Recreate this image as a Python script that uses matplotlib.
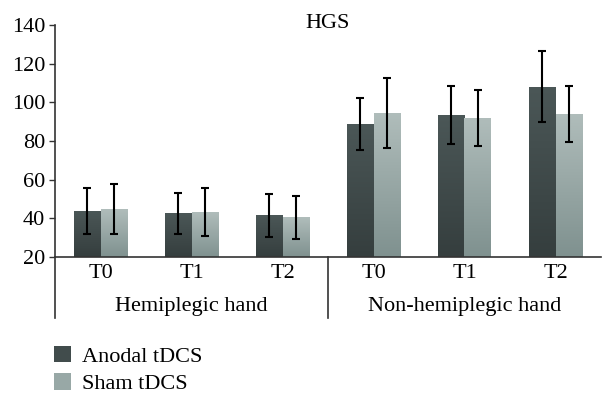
import numpy as np
import matplotlib
matplotlib.use("Agg")
import matplotlib.pyplot as plt
from matplotlib.colors import LinearSegmentedColormap

categories = ["T0", "T1", "T2", "T0", "T1", "T2"]
groups = ["Hemiplegic hand", "Non-hemiplegic hand"]
anodal = [43.8, 42.6, 41.6, 88.8, 93.3, 108.1]
anodal_err = [12.0, 10.5, 11.0, 13.4, 15.1, 18.3]
sham = [44.8, 43.1, 40.5, 94.7, 91.9, 94.0]
sham_err = [13.1, 12.4, 11.0, 18.1, 14.4, 14.7]
series = ["Anodal tDCS", "Sham tDCS"]

plt.rcParams["font.family"] = ["Liberation Serif", "DejaVu Serif"]
plt.rcParams["font.size"] = 16

fig = plt.figure(figsize=(6.15, 4.03), dpi=100)
ax = fig.add_axes([55 / 615, 1 - 257 / 403, 546 / 615, 232 / 403])

x = np.arange(len(categories))
w = 0.29
dark_cmap = LinearSegmentedColormap.from_list("d", ["#353e3e", "#4b5757"])
light_cmap = LinearSegmentedColormap.from_list("l", ["#7f918f", "#b0bdbb"])

bars_a = ax.bar(x - w / 2, anodal, w, color="#414c4c", label=series[0], zorder=2)
bars_s = ax.bar(x + w / 2, sham, w, color="#98a8a6", label=series[1], zorder=2)

# vertical gradient fill clipped to each bar
grad = np.linspace(0, 1, 256).reshape(-1, 1)
for bars, cmap in ((bars_a, dark_cmap), (bars_s, light_cmap)):
    for b in bars:
        bx, bw, bh = b.get_x(), b.get_width(), b.get_height()
        im = ax.imshow(grad, cmap=cmap, origin="lower", aspect="auto",
                       extent=[bx, bx + bw, 20, bh], zorder=2.5)
        im.set_clip_path(b)

ax.errorbar(x - w / 2, anodal, yerr=anodal_err, fmt="none", ecolor="black",
            elinewidth=1.5, capsize=3, capthick=1.5, zorder=4)
ax.errorbar(x + w / 2, sham, yerr=sham_err, fmt="none", ecolor="black",
            elinewidth=1.5, capsize=3, capthick=1.5, zorder=4)

ax.set_xlim(-0.5, 5.5)
ax.set_ylim(20, 140)
ax.set_yticks(range(20, 141, 20))
ax.set_xticks(x)
ax.set_xticklabels(categories)
ax.tick_params(axis="x", length=0, pad=5)
ax.tick_params(axis="y", direction="out", length=4, width=1, color="#333333", pad=3)
for s in ["top", "right"]:
    ax.spines[s].set_visible(False)
for s in ["left", "bottom"]:
    ax.spines[s].set_color("#333333")
    ax.spines[s].set_linewidth(1.2)

# group labels and separators under the axis
depth = -(318 - 257) / 232
for xs in [-0.5, 2.5]:
    ax.plot([xs, xs], [0, depth], transform=ax.get_xaxis_transform(),
            color="#333333", lw=1.2, clip_on=False)
for i, g in enumerate(groups):
    ax.text(1 + 3 * i, -(306 - 257) / 232, g, transform=ax.get_xaxis_transform(),
            ha="center", va="center")

ax.text(0.5, 1 + 2 / 232, "HGS", transform=ax.transAxes,
        ha="center", va="center", fontsize=16)

fig.legend(handles=[bars_a, bars_s], labels=series, loc="upper left",
           bbox_to_anchor=(45 / 615, 1 - 337 / 403), frameon=False,
           handlelength=0.75, handleheight=0.75, handletextpad=0.5,
           labelspacing=0.3, borderaxespad=0)

fig.savefig("out.png", dpi=100)
